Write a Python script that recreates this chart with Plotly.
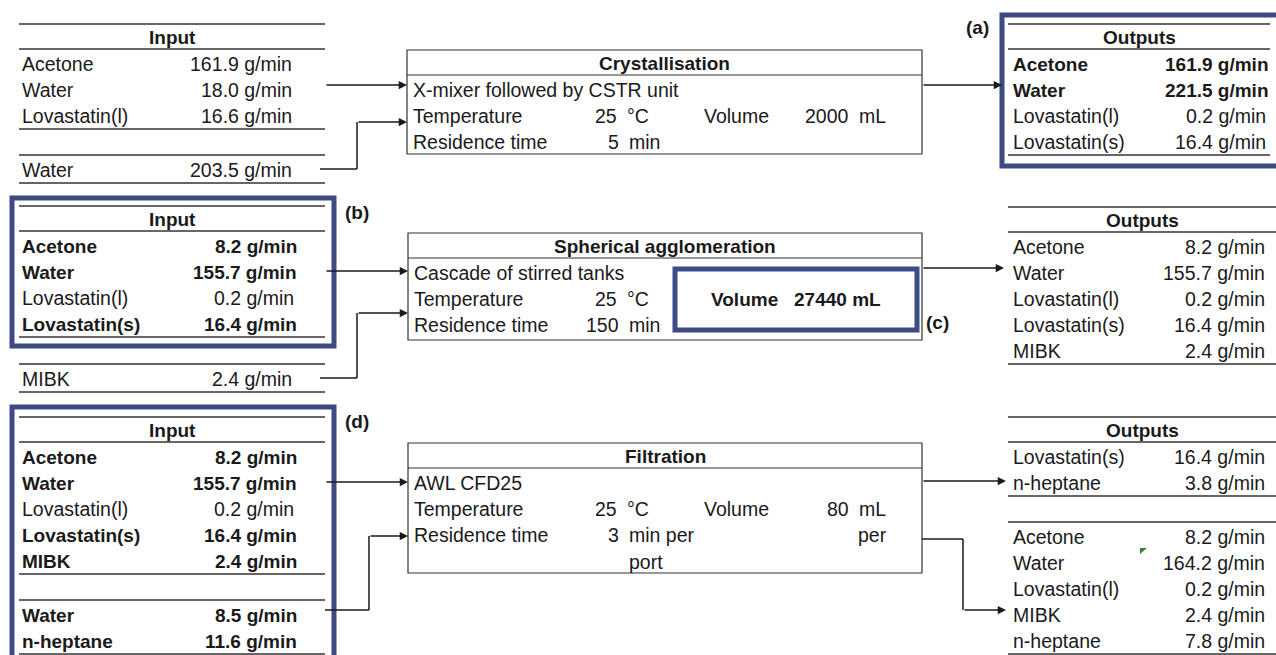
import plotly.graph_objects as go

# ---------------- data ----------------
# stage 1: crystallisation
cryst_in_names = ["Acetone", "Water", "Lovastatin(l)"]
cryst_in_vals = [161.9, 18.0, 16.6]
cryst_in2_names = ["Water"]
cryst_in2_vals = [203.5]
cryst_out_names = ["Acetone", "Water", "Lovastatin(l)", "Lovastatin(s)"]
cryst_out_vals = [161.9, 221.5, 0.2, 16.4]
cryst_out_bold = [True, True, False, False]

# stage 2: spherical agglomeration
agglo_in_names = ["Acetone", "Water", "Lovastatin(l)", "Lovastatin(s)"]
agglo_in_vals = [8.2, 155.7, 0.2, 16.4]
agglo_in_bold = [True, True, False, True]
agglo_in2_names = ["MIBK"]
agglo_in2_vals = [2.4]
agglo_out_names = ["Acetone", "Water", "Lovastatin(l)", "Lovastatin(s)", "MIBK"]
agglo_out_vals = [8.2, 155.7, 0.2, 16.4, 2.4]

# stage 3: filtration
filt_in_names = ["Acetone", "Water", "Lovastatin(l)", "Lovastatin(s)", "MIBK"]
filt_in_vals = [8.2, 155.7, 0.2, 16.4, 2.4]
filt_in_bold = [True, True, False, True, True]
filt_in2_names = ["Water", "n-heptane"]
filt_in2_vals = [8.5, 11.6]
filt_out_names = ["Lovastatin(s)", "n-heptane"]
filt_out_vals = [16.4, 3.8]
filt_out2_names = ["Acetone", "Water", "Lovastatin(l)", "MIBK", "n-heptane"]
filt_out2_vals = [8.2, 164.2, 0.2, 2.4, 7.8]

# unit operations
units = ["Crystallisation", "Spherical agglomeration", "Filtration"]
unit_desc = ["X-mixer followed by CSTR unit", "Cascade of stirred tanks", "AWL CFD25"]
temps = [25, 25, 25]
volumes = [2000, 27440, 80]
res_times = [5, 150, 3]

FONT = "Liberation Sans, Arial, sans-serif"
FS = 19.5
FS_BOLD = 19
INK = "#1a1a1a"
BLUE = "#3d4a86"

shapes = []
annotations = []


def text(x, y, s, anchor="left", bold=False, size=None, color=INK):
    if size is None:
        size = FS_BOLD if bold else FS
    if bold:
        s = "<b>" + s + "</b>"
    annotations.append(dict(
        x=x, y=y, xref="x", yref="y", text=s, showarrow=False,
        xanchor=anchor, yanchor="middle",
        font=dict(family=FONT, size=size, color=color)
    ))


def hline(x0, x1, y, width=1.6, color="#333333"):
    shapes.append(dict(type="line", x0=x0, x1=x1, y0=y, y1=y,
                       xref="x", yref="y", line=dict(color=color, width=width)))


def seg(pts):
    for (a, b), (c, d) in zip(pts[:-1], pts[1:]):
        shapes.append(dict(type="line", x0=a, y0=b, x1=c, y1=d, xref="x", yref="y",
                           line=dict(color=INK, width=1.5)))


def arrow(x0, y0, x1, y1):
    annotations.append(dict(
        x=x1, y=y1, ax=x0, ay=y0, xref="x", yref="y", axref="x", ayref="y",
        text="", showarrow=True, arrowhead=2, arrowsize=1.1, arrowwidth=1.5,
        arrowcolor=INK, standoff=0
    ))


def frame(x0, y0, x1, y1, width=5):
    shapes.append(dict(type="rect", x0=x0, y0=y0, x1=x1, y1=y1, xref="x", yref="y",
                       line=dict(color=BLUE, width=width), fillcolor="rgba(0,0,0,0)"))


def table(x0, x1, top, title, groups, lab_x, val_x, step=26):
    """groups: list of (names, values, bold flags)"""
    y = top
    if title:
        hline(x0, x1, y)
        text((x0 + x1) / 2, y + 13, title, anchor="center", bold=True)
        y += 25
    for gi, (names, vals, bolds) in enumerate(groups):
        if gi > 0:
            y += 26
        hline(x0, x1, y)
        ry = y + 15
        for n, v, b in zip(names, vals, bolds):
            text(lab_x, ry, n, bold=b)
            text(val_x + (3 if b else 0), ry, f"{v:.1f} g/min", anchor="right", bold=b)
            ry += step
        y = ry - step + 13
        hline(x0, x1, y)
    return y


def unit_box(x0, x1, top, bottom, i):
    shapes.append(dict(type="rect", x0=x0, y0=top, x1=x1, y1=bottom, xref="x", yref="y",
                       line=dict(color="#333333", width=1.2)))
    hline(x0, x1, top + 25, width=1.2)
    text((x0 + x1) / 2, top + 13, units[i], anchor="center", bold=True)
    ry = top + 40
    text(x0 + 4, ry, unit_desc[i])
    text(x0 + 4, ry + 26, "Temperature")
    text(619, ry + 26, str(temps[i]), anchor="right")
    text(625, ry + 26, "°C")
    text(x0 + 4, ry + 52, "Residence time")
    text(621, ry + 52, str(res_times[i]), anchor="right")
    return ry


# ---------------- stage 1 ----------------
f = [False] * 5
table(19, 325, 24, "Input",
      [(cryst_in_names, cryst_in_vals, f)], 20, 294)
table(19, 325, 155, None,
      [(cryst_in2_names, cryst_in2_vals, f)], 20, 294)
ry = unit_box(407, 922, 50, 154, 0)
text(627, ry + 52, "min")
text(702, ry + 26, "Volume")
text(851, ry + 26, str(volumes[0]), anchor="right")
text(857, ry + 26, "mL")
frame(1002, 15, 1279, 166)
table(1008, 1270, 24, "Outputs",
      [(cryst_out_names, cryst_out_vals, cryst_out_bold)], 1011, 1268)
text(977, 27, "(a)", anchor="center", bold=True)

arrow(325, 85, 407, 85)
seg([(320, 169), (357, 169), (357, 122)])
arrow(357, 122, 407, 122)
arrow(922, 85, 1002, 85)

# ---------------- stage 2 ----------------
frame(12, 198, 334, 346)
table(19, 325, 206, "Input",
      [(agglo_in_names, agglo_in_vals, agglo_in_bold)], 20, 296)
table(19, 325, 364, None,
      [(agglo_in2_names, agglo_in2_vals, f)], 20, 294)
text(357, 212, "(b)", anchor="center", bold=True)
ry = unit_box(408, 922, 233, 340, 1)
text(627, ry + 52, "min")
frame(675, 269, 917, 330)
text(796, 299, f"Volume   {volumes[1]} mL", anchor="center", bold=True)
text(937, 322, "(c)", anchor="center", bold=True)
table(1008, 1276, 207, "Outputs",
      [(agglo_out_names, agglo_out_vals, f)], 1011, 1267)

arrow(325, 271, 408, 271)
seg([(320, 378), (357, 378), (357, 313)])
arrow(357, 313, 408, 313)
arrow(922, 268, 1004, 268)

# ---------------- stage 3 ----------------
frame(12, 407, 334, 662)
table(19, 325, 417, "Input",
      [(filt_in_names, filt_in_vals, filt_in_bold),
       (filt_in2_names, filt_in2_vals, [True, True])], 20, 296)
text(357, 421, "(d)", anchor="center", bold=True)
ry = unit_box(408, 922, 443, 573, 2)
text(627, ry + 52, "min per")
text(627, ry + 79, "port")
text(702, ry + 26, "Volume")
text(851, ry + 26, str(volumes[2]), anchor="right")
text(857, ry + 26, "mL")
text(856, ry + 52, "per")
table(1008, 1276, 417, "Outputs",
      [(filt_out_names, filt_out_vals, f),
       (filt_out2_names, filt_out2_vals, f)], 1011, 1267)

arrow(325, 482, 408, 482)
seg([(325, 610), (369, 610), (369, 536)])
arrow(369, 536, 408, 536)
arrow(922, 481, 1006, 481)
seg([(922, 539), (963, 539), (963, 610)])
arrow(963, 610, 1006, 610)

# excel comment marker
shapes.append(dict(type="path", path="M 1140 548 L 1147 548 L 1140 554 Z",
                   xref="x", yref="y", fillcolor="#2b8a2b", line=dict(width=0)))

fig = go.Figure()
fig.update_layout(
    width=1276, height=655,
    margin=dict(l=0, r=0, t=0, b=0),
    paper_bgcolor="white", plot_bgcolor="white",
    xaxis=dict(range=[0, 1276], visible=False, fixedrange=True),
    yaxis=dict(range=[655, 0], visible=False, fixedrange=True),
    shapes=shapes, annotations=annotations, showlegend=False
)
fig.write_html("out.html", config={"displayModeBar": False},
               post_script="document.body.style.margin='0';document.body.style.overflow='hidden';")
